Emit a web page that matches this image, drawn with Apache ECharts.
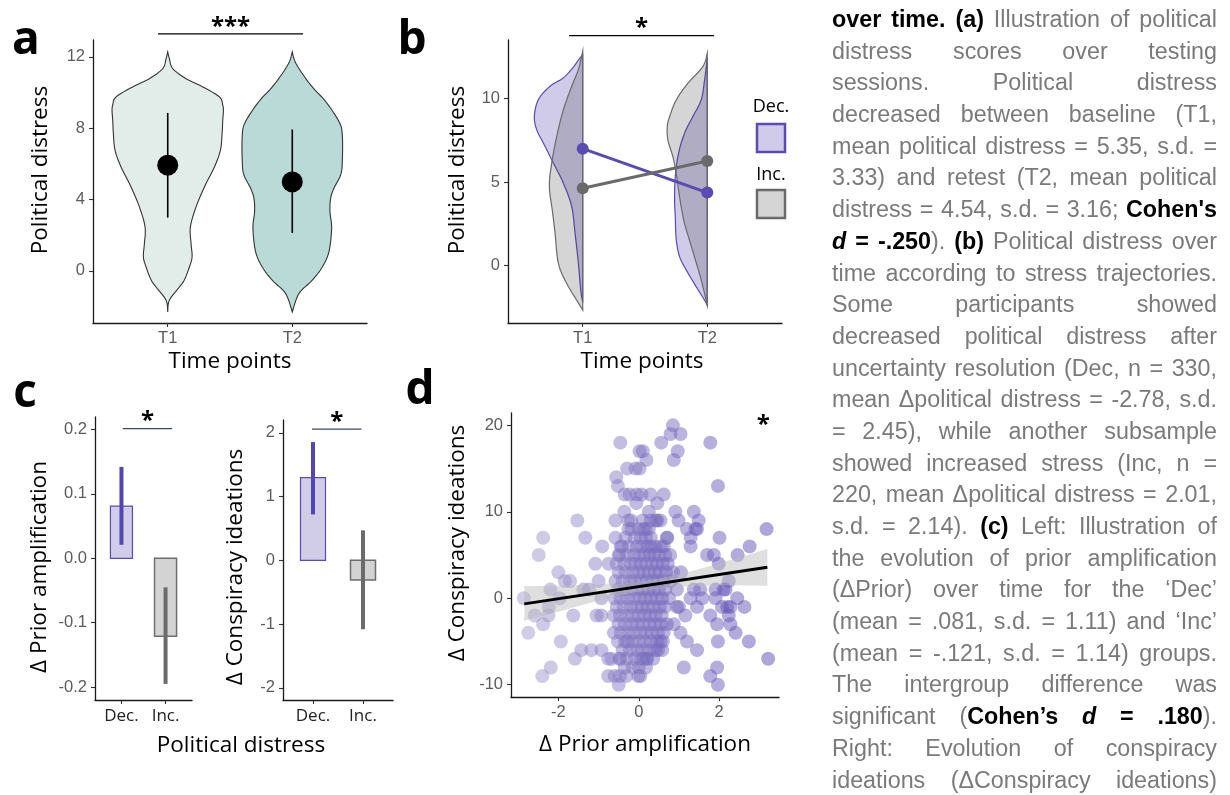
<!DOCTYPE html>
<html>
<head>
<meta charset="utf-8">
<script src="https://cdn.jsdelivr.net/npm/echarts@6/dist/echarts.min.js"></script>
<style>
html,body{margin:0;padding:0;background:#fff;width:1230px;height:795px;overflow:hidden;}
#chart{position:absolute;left:0;top:0;width:1230px;height:795px;}
#caption{position:absolute;left:832px;top:4px;width:385px;font-family:"Liberation Sans",Arial,sans-serif;font-size:23.3px;color:#7a7a7a;}
#caption div{height:31.7px;line-height:31.7px;text-align:justify;text-align-last:justify;white-space:normal;}
#caption b{color:#000;}
</style>
</head>
<body>
<div id="chart"></div>
<div id="caption"></div>
<script>
// ---------------- DATA ----------------
const timeLabels = ['T1', 'T2'];
const groupLabels = ['Dec.', 'Inc.'];

// Panel a: violin profiles [political distress, relative density]
const violinA_T1 = [[12.28,0],[11.9,0.05],[11.35,0.15],[10.78,0.55],[10.32,1.05],[9.76,1.55],[9.3,1.65],[9.0,1.67],[8.45,1.65],[7.7,1.63],[6.77,1.58],[5.83,1.4],[4.71,1.1],[3.59,0.85],[2.47,0.68],[1.53,0.7],[0.79,0.73],[0.22,0.65],[-0.5,0.5],[-0.9,0.35],[-1.64,0.05],[-2.3,0]];
const violinA_T2 = [[12.28,0],[11.6,0.12],[10.43,0.55],[9.5,1.0],[8.38,1.4],[7.63,1.5],[6.13,1.5],[5.38,1.45],[4.64,1.25],[4.07,1.15],[3.33,1.13],[2.4,1.18],[1.08,1.1],[0.22,0.9],[-0.52,0.6],[-1.27,0.2],[-2.3,0]];
const meanA = [5.93, 4.99];
const lowA = [2.99, 2.13];
const highA = [8.86, 7.93];

// Panel b: half-violin profiles per group and time point
const violinB_Dec_T1 = [[12.6,0],[12.41,0.08],[11.82,0.3],[11.22,0.58],[10.72,0.98],[9.92,1.33],[8.92,1.45],[8.12,1.38],[7.33,1.18],[6.13,0.88],[4.93,0.58],[3.53,0.33],[1.94,0.23],[0.14,0.13],[-1.46,0.06],[-2.2,0]];
const violinB_Inc_T1 = [[12.81,0],[11.72,0.13],[10.72,0.33],[9.32,0.58],[7.72,0.78],[6.13,0.93],[4.73,1.0],[3.13,0.9],[1.94,0.83],[0.14,0.73],[-1.06,0.48],[-2.06,0.18],[-2.65,0]];
const violinB_Dec_T2 = [[12.4,0],[11.1,0.08],[9.92,0.18],[8.92,0.43],[7.92,0.68],[6.73,0.86],[5.33,0.96],[3.93,0.98],[2.93,0.96],[1.54,0.93],[0.54,0.83],[-0.26,0.63],[-1.26,0.33],[-2.06,0.08],[-2.36,0]];
const violinB_Inc_T2 = [[12.7,0],[11.9,0.13],[10.9,0.58],[9.9,0.93],[8.9,1.13],[8.3,1.2],[7.5,1.18],[6.5,1.03],[5.5,0.93],[4.5,0.86],[3.5,0.78],[2.5,0.68],[1.5,0.53],[0.5,0.38],[-0.5,0.23],[-1.5,0.1],[-2.35,0]];
const meanB_Dec = [6.99, 4.37];
const meanB_Inc = [4.63, 6.25];

// Panel c: group means and error bars
const priorMean = [0.081, -0.121];
const priorLow = [0.021, -0.195];
const priorHigh = [0.142, -0.045];
const conspMean = [1.295, -0.308];
const conspLow = [0.72, -1.08];
const conspHigh = [1.854, 0.47];

// Panel d: [delta prior amplification, delta conspiracy ideations]
const scatterD = [
 [0.85,20],[0.79,19],[1.04,19],[-0.46,18],[0.56,18],[1.78,18],[0.02,17],[0.1,17],[0.97,17],[0.19,16],[0.87,16],
 [-0.29,15],[-0.08,15],[0.02,15],[-0.56,14],[-0.52,13],[1.97,13],
 [-0.35,12],[-0.23,12],[-0.05,12],[0.07,12],[0.29,12],[0.62,12],[-0.06,11],[0.46,11],
 [-0.36,10],[0.25,10],[0.91,10],[1.37,10],[-0.58,9],[-1.53,9],[-0.19,9],[0.46,9],[0.99,9],[1.49,9],[-0.26,9],[0.42,9],[0.54,9],
 [0.12,8],[1.2,8],[1.41,8],[3.18,8],[-0.26,8],[-0.18,8],[0.17,8],[1.45,8],
 [-2.38,7],[-1.33,7],[-0.58,7],[-0.33,7],[0.7,7],[1.29,7],[2.01,7],[0.71,7],
 [-0.91,6],[-0.45,6],[1.29,6],[2.76,6],[-2.49,5],[-0.5,5],[1.7,5],[1.87,5],[2.46,5],
 [-1.08,4],[-0.75,4],[1.99,4],[-2.0,3],[-1.84,2],[-1.71,2],[-1.0,2],[2.24,2],
 [-2.2,1],[-1.38,1],[-1.24,1],[1.91,1],[2.11,1],[0.95,1],[1.37,1],[1.53,1],[2.16,1],
 [-2.86,0],[-1.97,0],[-0.93,0],[1.29,0],[1.58,0],[1.91,0],[2.45,0],
 [-2.24,-1],[0.95,-1],[1.45,-1],[2.07,-1],[2.28,-1],[2.63,-1],[2.2,-1],[1.0,-1],
 [-2.59,-2],[-2.25,-2],[-1.63,-2],[-1.05,-2],[-0.93,-2],[1.16,-2],[1.78,-2],[2.24,-2],
 [-2.38,-3],[0.87,-3],[1.95,-3],[2.28,-3],[-2.75,-4],[-0.62,-4],[1.04,-4],[2.41,-4],[0.62,-4],
 [-1.94,-5],[-0.29,-5],[1.2,-5],[1.97,-5],[2.74,-5],[0.54,-5],
 [-1.43,-6],[-1.18,-6],[-0.93,-6],[1.45,-6],[0.48,-6],
 [-1.59,-7],[-0.76,-7],[-0.68,-7],[-0.46,-7],[0.12,-7],[3.22,-7],[0.21,-7],
 [-2.19,-8],[1.12,-8],[1.95,-8],
 [-2.4,-9],[-0.76,-9],[-0.6,-9],[-0.47,-9],[-0.31,-9],[-0.01,-9],[1.78,-9],[0.04,-9],
 [-0.5,-10],[1.97,-10],
 [-0.1,7],[0.05,7],[0.18,7],[0.3,7],[0.0,8],[0.25,8],[0.1,9],[0.3,9],
 [-0.42,6],[-0.25,6],[-0.05,6],[0.08,6],[0.22,6],[0.3,6],[0.41,6],[0.55,6],[0.62,6],
 [-0.48,5],[-0.3,5],[-0.12,5],[0.02,5],[0.14,5],[0.27,5],[0.38,5],[0.5,5],[0.66,5],[0.78,5],
 [-0.55,4],[-0.36,4],[-0.2,4],[-0.08,4],[0.05,4],[0.18,4],[0.33,4],[0.45,4],[0.6,4],[0.72,4],
 [-0.5,3],[-0.33,3],[-0.15,3],[0.0,3],[0.12,3],[0.25,3],[0.4,3],[0.52,3],[0.68,3],[0.85,3],[1.05,3],
 [-0.58,2],[-0.4,2],[-0.22,2],[-0.1,2],[0.06,2],[0.2,2],[0.35,2],[0.47,2],[0.62,2],[0.8,2],
 [-0.52,1],[-0.35,1],[-0.18,1],[-0.02,1],[0.1,1],[0.24,1],[0.37,1],[0.5,1],[0.66,1],
 [-0.6,0],[-0.45,0],[-0.28,0],[-0.12,0],[0.03,0],[0.16,0],[0.3,0],[0.44,0],[0.58,0],[0.75,0],
 [-0.55,-1],[-0.38,-1],[-0.2,-1],[-0.05,-1],[0.08,-1],[0.22,-1],[0.36,-1],[0.52,-1],[0.65,-1],
 [-0.62,-2],[-0.47,-2],[-0.3,-2],[-0.15,-2],[0.0,-2],[0.14,-2],[0.28,-2],[0.42,-2],[0.57,-2],
 [-0.5,-3],[-0.35,-3],[-0.18,-3],[-0.04,-3],[0.1,-3],[0.26,-3],[0.4,-3],[0.55,-3],[0.7,-3],
 [-0.45,-4],[-0.28,-4],[-0.12,-4],[0.04,-4],[0.18,-4],[0.32,-4],[0.48,-4],
 [-0.52,-5],[-0.34,-5],[-0.16,-5],[0.0,-5],[0.15,-5],[0.3,-5],[0.46,-5],[0.6,-5],
 [-0.4,-6],[-0.22,-6],[-0.05,-6],[0.1,-6],[0.26,-6],[0.42,-6],[0.58,-6],
 [-0.48,-7],[-0.3,-7],[-0.1,-7],[0.05,-7],[0.2,-7],[0.36,-7],
 [-0.35,-8],[-0.15,-8],[0.0,-8],[0.18,-8]
];
const fitX = [-2.85, 3.2];
const fitY = [-0.65, 3.6];
const bandX = [-2.85, -2, -1, 0, 1, 2, 3.2];
const bandLo = [-2.6, -1.55, -0.29, 0.79, 1.3, 1.49, 1.45];
const bandHi = [1.42, 1.45, 1.59, 1.91, 2.8, 4.03, 5.7];

const captionLines = [
 '<b>over time.</b> <b>(a)</b> Illustration of political',
 'distress scores over testing',
 'sessions. Political distress',
 'decreased between baseline (T1,',
 'mean political distress = 5.35, s.d. =',
 '3.33) and retest (T2, mean political',
 'distress = 4.54, s.d. = 3.16; <b>Cohen\'s</b>',
 '<b><i>d</i> = -.250</b>). <b>(b)</b> Political distress over',
 'time according to stress trajectories.',
 'Some participants showed',
 'decreased political distress after',
 'uncertainty resolution (Dec, n = 330,',
 'mean \u0394political distress = -2.78, s.d.',
 '= 2.45), while another subsample',
 'showed increased stress (Inc, n =',
 '220, mean \u0394political distress = 2.01,',
 's.d. = 2.14). <b>(c)</b> Left: Illustration of',
 'the evolution of prior amplification',
 '(\u0394Prior) over time for the \u2018Dec\u2019',
 '(mean = .081, s.d. = 1.11) and \u2018Inc\u2019',
 '(mean = -.121, s.d. = 1.14) groups.',
 'The intergroup difference was',
 'significant (<b>Cohen\u2019s <i>d</i> = .180</b>).',
 'Right: Evolution of conspiracy',
 'ideations (\u0394Conspiracy ideations)'
];

// ---------------- RENDER ----------------
document.getElementById('caption').innerHTML = captionLines.map(l => '<div>' + l + '</div>').join('');

const DENS = 100 / 373.5;   // density -> x-axis units
const PURPLE = '#5a4bb3', GREYL = '#6a6a6a';
const SANS = '"Liberation Sans", Arial, sans-serif';
const OPEN = '"Open Sans", "DejaVu Sans", sans-serif';
const TICK_FS = 16.5;

function spline(pts, n) {
  const out = [];
  for (let i = 0; i < pts.length - 1; i++) {
    const p0 = pts[Math.max(i - 1, 0)], p1 = pts[i], p2 = pts[i + 1], p3 = pts[Math.min(i + 2, pts.length - 1)];
    for (let k = 0; k < n; k++) {
      const t = k / n, t2 = t * t, t3 = t2 * t;
      out.push([0, 1].map(j => 0.5 * ((2 * p1[j]) + (-p0[j] + p2[j]) * t + (2 * p0[j] - 5 * p1[j] + 4 * p2[j] - p3[j]) * t2 + (-p0[j] + 3 * p1[j] - 3 * p2[j] + p3[j]) * t3)));
    }
  }
  out.push(pts[pts.length - 1]);
  return out;
}

function axisX(grid, min, max, vals, fmt, lbl) {
  return {
    type: 'value', gridIndex: grid, min: min, max: max,
    axisLine: {show: true, onZero: false, lineStyle: {color: '#1a1a1a', width: 1.3}},
    axisTick: {show: true, length: 4, customValues: vals, lineStyle: {color: '#333', width: 1.1}},
    axisLabel: Object.assign({customValues: vals, formatter: fmt, margin: 7, color: '#5c5c5c', fontSize: TICK_FS, fontFamily: SANS}, lbl || {}),
    splitLine: {show: false}
  };
}
function axisY(grid, min, max, vals, fmt) {
  return {
    type: 'value', gridIndex: grid, min: min, max: max,
    axisLine: {show: true, onZero: false, lineStyle: {color: '#1a1a1a', width: 1.3}},
    axisTick: {show: true, length: 4, customValues: vals, lineStyle: {color: '#333', width: 1.1}},
    axisLabel: {customValues: vals, formatter: fmt, margin: 8, color: '#5c5c5c', fontSize: TICK_FS, fontFamily: SANS},
    splitLine: {show: false}
  };
}
const tFmt = v => timeLabels[Math.round(v) - 1];
const gFmt = v => groupLabels[Math.round(v) - 1];

function sigSeries(ax, x1, x2, y, label, color, noLine) {
  return {
    type: 'custom', xAxisIndex: ax, yAxisIndex: ax, data: [[x1, y]], clip: false, silent: true, z: 20,
    renderItem: (params, api) => {
      const a = api.coord([x1, y]), b = api.coord([x2, y]);
      const ch = [];
      if (!noLine) ch.push({type: 'line', shape: {x1: a[0], y1: a[1], x2: b[0], y2: b[1]}, style: {stroke: color, lineWidth: 1.3}});
      ch.push({type: 'text', x: (a[0] + b[0]) / 2, y: noLine ? a[1] : a[1] - 7,
        style: {text: label, fill: '#000', font: 'bold 24px ' + OPEN, align: 'center', textAlign: 'center', verticalAlign: 'middle', textVerticalAlign: 'middle'}});
      return {type: 'group', children: ch};
    }
  };
}

// full violins (panel a)
const violinsA = [violinA_T1, violinA_T2];
const fillA = ['#e2ece8', '#b9dad6'];
const violinSeriesA = {
  type: 'custom', xAxisIndex: 0, yAxisIndex: 0, data: [[1], [2]], z: 2,
  renderItem: (params, api) => {
    const i = params.dataIndex, xc = i + 1, prof = violinsA[i];
    const cx = api.coord([xc, 0])[0];
    const right = spline(prof.map(p => api.coord([xc + p[1] * DENS, p[0]])), 8).map(p => [Math.max(p[0], cx), p[1]]);
    const left = spline(prof.map(p => api.coord([xc - p[1] * DENS, p[0]])), 8).map(p => [Math.min(p[0], cx), p[1]]).reverse();
    return {type: 'polygon', shape: {points: right.concat(left)}, style: {fill: fillA[i], stroke: '#333', lineWidth: 1.1}};
  }
};
const errSeriesA = {
  type: 'custom', xAxisIndex: 0, yAxisIndex: 0, z: 3,
  data: meanA.map((m, i) => [i + 1, lowA[i], highA[i]]),
  renderItem: (params, api) => {
    const a = api.coord([api.value(0), api.value(1)]), b = api.coord([api.value(0), api.value(2)]);
    return {type: 'line', shape: {x1: a[0], y1: a[1], x2: b[0], y2: b[1]}, style: {stroke: '#000', lineWidth: 1.6}};
  }
};

// half violins (panel b)
const halfB = [
  {t: 1, prof: violinB_Dec_T1, fill: 'rgba(98,82,178,0.30)', stroke: PURPLE},
  {t: 2, prof: violinB_Dec_T2, fill: 'rgba(98,82,178,0.30)', stroke: PURPLE},
  {t: 1, prof: violinB_Inc_T1, fill: 'rgba(55,55,55,0.21)', stroke: GREYL},
  {t: 2, prof: violinB_Inc_T2, fill: 'rgba(55,55,55,0.21)', stroke: GREYL}
];
const violinSeriesB = {
  type: 'custom', xAxisIndex: 1, yAxisIndex: 1, data: halfB.map((h, i) => [i]), z: 2,
  renderItem: (params, api) => {
    const h = halfB[params.dataIndex], xc = h.t;
    const cx = api.coord([xc, 0])[0];
    const top = api.coord([xc, h.prof[0][0]]), bot = api.coord([xc, h.prof[h.prof.length - 1][0]]);
    const curve = spline(h.prof.map(p => api.coord([xc - p[1] * DENS, p[0]])), 8).map(p => [Math.min(p[0], cx), p[1]]);
    return {type: 'polygon', shape: {points: [top].concat(curve, [bot])}, style: {fill: h.fill, stroke: h.stroke, lineWidth: 1.2}};
  }
};

// bars (panel c)
function barSeries(ax, means) {
  const fills = ['#d1cce8', '#d3d3d3'], strokes = [PURPLE, '#6e6e6e'];
  return {
    type: 'custom', xAxisIndex: ax, yAxisIndex: ax, z: 2,
    data: means.map((m, i) => [i + 1, m]),
    renderItem: (params, api) => {
      const x = api.value(0), v = api.value(1), i = params.dataIndex;
      const p1 = api.coord([x - 0.25, v]), p2 = api.coord([x + 0.25, 0]);
      return {type: 'rect', shape: {x: p1[0], y: Math.min(p1[1], p2[1]), width: p2[0] - p1[0], height: Math.abs(p2[1] - p1[1])},
        style: {fill: fills[i], stroke: strokes[i], lineWidth: i ? 1.5 : 1.2}};
    }
  };
}
function errSeries(ax, lows, highs) {
  const cols = ['#5346b0', '#6b6b6b'];
  return {
    type: 'custom', xAxisIndex: ax, yAxisIndex: ax, z: 3,
    data: lows.map((l, i) => [i + 1, l, highs[i]]),
    renderItem: (params, api) => {
      const a = api.coord([api.value(0), api.value(1)]), b = api.coord([api.value(0), api.value(2)]);
      return {type: 'line', shape: {x1: a[0], y1: a[1], x2: b[0], y2: b[1]}, style: {stroke: cols[params.dataIndex], lineWidth: 4}};
    }
  };
}

const bandSeries = {
  type: 'custom', xAxisIndex: 4, yAxisIndex: 4, data: [[0]], z: 4, silent: true,
  renderItem: (params, api) => {
    const up = spline(bandX.map((x, i) => api.coord([x, bandHi[i]])), 6);
    const lo = spline(bandX.map((x, i) => api.coord([x, bandLo[i]])), 6).reverse();
    return {type: 'polygon', shape: {points: up.concat(lo)}, style: {fill: 'rgba(185,185,185,0.45)'}};
  }
};

const chart = echarts.init(document.getElementById('chart'), null, {renderer: 'canvas'});

const gtext = (text, x, y, font, opts) => Object.assign({
  type: 'text', x: x, y: y,
  style: {text: text, font: font, fill: '#000', align: 'center', textAlign: 'center', verticalAlign: 'middle', textVerticalAlign: 'middle'}
}, opts || {});

const option = {
  animation: false,
  backgroundColor: '#fff',
  grid: [
    {left: 93, top: 40, width: 274, height: 283, outerBoundsMode: 'none'},
    {left: 508, top: 40, width: 274, height: 283, outerBoundsMode: 'none'},
    {left: 95, top: 417, width: 97, height: 283, outerBoundsMode: 'none'},
    {left: 283, top: 420, width: 110, height: 280, outerBoundsMode: 'none'},
    {left: 511, top: 413, width: 268, height: 284, outerBoundsMode: 'none'}
  ],
  xAxis: [
    axisX(0, 0.4, 2.6, [1, 2], tFmt),
    axisX(1, 0.4, 2.6, [1, 2], tFmt),
    axisX(2, 0.4, 2.6, [1, 2], gFmt, {color: '#222', fontSize: 17, fontFamily: OPEN, margin: 8}),
    axisX(3, 0.4, 2.6, [1, 2], gFmt, {color: '#222', fontSize: 17, fontFamily: OPEN, margin: 8}),
    axisX(4, -3.18, 3.49, [-2, 0, 2], v => String(v))
  ],
  yAxis: [
    axisY(0, -2.92, 12.95, [0, 4, 8, 12], v => String(v)),
    axisY(1, -3.42, 13.48, [0, 5, 10], v => String(v)),
    axisY(2, -0.22, 0.2195, [-0.2, -0.1, 0, 0.1, 0.2], v => v.toFixed(1)),
    axisY(3, -2.19, 2.2, [-2, -1, 0, 1, 2], v => String(v)),
    axisY(4, -11.42, 21.43, [-10, 0, 10, 20], v => String(v))
  ],
  visualMap: {
    show: false, type: 'continuous', dimension: 0, seriesIndex: 11, min: -3, max: 3.2,
    inRange: {color: ['#a199cc', '#5645b2']}
  },
  series: [
    violinSeriesA,                                   // 0
    errSeriesA,                                      // 1
    {type: 'scatter', xAxisIndex: 0, yAxisIndex: 0, z: 4, symbolSize: 21,
     data: meanA.map((m, i) => [i + 1, m]), itemStyle: {color: '#000', opacity: 1}},   // 2
    violinSeriesB,                                   // 3
    {type: 'line', xAxisIndex: 1, yAxisIndex: 1, z: 5, data: meanB_Dec.map((m, i) => [i + 1, m]),
     symbol: 'circle', symbolSize: 12, lineStyle: {color: PURPLE, width: 3}, itemStyle: {color: PURPLE}},   // 4
    {type: 'line', xAxisIndex: 1, yAxisIndex: 1, z: 5, data: meanB_Inc.map((m, i) => [i + 1, m]),
     symbol: 'circle', symbolSize: 12, lineStyle: {color: GREYL, width: 3}, itemStyle: {color: GREYL}},     // 5
    barSeries(2, priorMean),                         // 6
    errSeries(2, priorLow, priorHigh),               // 7
    barSeries(3, conspMean),                         // 8
    errSeries(3, conspLow, conspHigh),               // 9
    sigSeries(0, 0.922, 2.087, 13.29, '***', '#000'),// 10
    {type: 'scatter', xAxisIndex: 4, yAxisIndex: 4, z: 3, symbolSize: 14,
     data: scatterD, itemStyle: {opacity: 0.48}},     // 11
    bandSeries,                                      // 12
    {type: 'line', xAxisIndex: 4, yAxisIndex: 4, z: 6, data: fitX.map((x, i) => [x, fitY[i]]),
     symbol: 'none', lineStyle: {color: '#000', width: 3}},   // 13
    sigSeries(1, 0.89, 2.055, 13.74, '*', '#000'),
    sigSeries(2, 1.03, 2.15, 0.2016, '*', '#3d4a5c'),
    sigSeries(3, 0.98, 1.968, 2.058, '*', '#3d4a5c'),
    sigSeries(4, 3.1, 3.1, 20.0, '*', '#000', true)
  ],
  graphic: [
    gtext('a', 26, 41, 'bold 46px ' + OPEN),
    gtext('b', 412, 41, 'bold 46px ' + OPEN),
    gtext('c', 25, 394, 'bold 46px ' + OPEN),
    gtext('d', 420, 391, 'bold 46px ' + OPEN),
    gtext('Political distress', 40.5, 170, '22.5px ' + OPEN, {rotation: Math.PI / 2}),
    gtext('Time points', 230, 362, '22.5px ' + OPEN),
    gtext('Political distress', 458, 170, '22.5px ' + OPEN, {rotation: Math.PI / 2}),
    gtext('Time points', 642, 362, '22.5px ' + OPEN),
    gtext('\u0394 Prior amplification', 39.5, 567, '22.5px ' + OPEN, {rotation: Math.PI / 2}),
    gtext('\u0394 Conspiracy ideations', 235.7, 567, '22.5px ' + OPEN, {rotation: Math.PI / 2}),
    gtext('Political distress', 241, 746, '22.5px ' + OPEN),
    gtext('\u0394 Conspiracy ideations', 457.3, 543, '22.5px ' + OPEN, {rotation: Math.PI / 2}),
    gtext('\u0394 Prior amplification', 645, 745, '22.5px ' + OPEN),
    gtext('Dec.', 771, 107, '18px ' + OPEN),
    {type: 'rect', shape: {x: 757, y: 124, width: 28, height: 28}, style: {fill: '#d0cbe8', stroke: PURPLE, lineWidth: 2.5}},
    gtext('Inc.', 771, 175, '18px ' + OPEN),
    {type: 'rect', shape: {x: 757, y: 190, width: 28, height: 28}, style: {fill: '#d5d5d5', stroke: GREYL, lineWidth: 2.5}}
  ]
};
chart.setOption(option);
</script>
</body>
</html>
